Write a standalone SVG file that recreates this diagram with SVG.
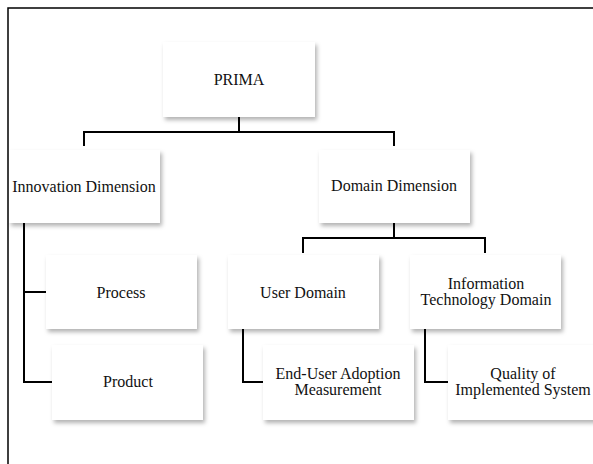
<svg xmlns="http://www.w3.org/2000/svg" width="593" height="464" viewBox="0 0 593 464">
<defs>
<filter id="sh" x="-10%" y="-10%" width="130%" height="140%">
<feDropShadow dx="2" dy="3" stdDeviation="2" flood-color="#000" flood-opacity="0.3"/>
</filter>
</defs>
<style>
.box{fill:#fff;filter:url(#sh)}
.t{font-family:"Liberation Serif","Times New Roman",serif;font-size:16px;fill:#111;text-anchor:middle}
.c{fill:none;stroke:#000;stroke-width:2}
</style>
<rect x="0" y="0" width="593" height="464" fill="#fff"/>
<rect x="8" y="8" width="600" height="470" fill="none" stroke="#000" stroke-width="1.5"/>
<g id="connectors">
<path class="c" d="M239 117V132M84 146V132H394V146"/>
<path class="c" d="M394 223V238M303 253V238H485V253"/>
<path class="c" d="M24 223V382H52M24 292H46"/>
<path class="c" d="M243 329V382H263"/>
<path class="c" d="M425 329V382H448"/>
</g>
<g id="prima"><rect class="box" x="163" y="42" width="152" height="75"/><text class="t" x="239" y="85">PRIMA</text></g>
<g id="innovation"><rect class="box" x="9" y="150" width="151" height="73"/><text class="t" x="84" y="192">Innovation Dimension</text></g>
<g id="domain"><rect class="box" x="319" y="150" width="151" height="73"/><text class="t" x="394" y="191">Domain Dimension</text></g>
<g id="process"><rect class="box" x="46" y="255" width="151" height="74"/><text class="t" x="121" y="298">Process</text></g>
<g id="product"><rect class="box" x="52" y="345" width="151" height="75"/><text class="t" x="128" y="387">Product</text></g>
<g id="user"><rect class="box" x="228" y="255" width="151" height="74"/><text class="t" x="303" y="298">User Domain</text></g>
<g id="it"><rect class="box" x="410" y="255" width="151" height="74"/><text class="t" x="486" y="289">Information</text><text class="t" x="486" y="305">Technology Domain</text></g>
<g id="enduser"><rect class="box" x="263" y="345" width="151" height="75"/><text class="t" x="338" y="379">End-User Adoption</text><text class="t" x="338" y="395">Measurement</text></g>
<g id="quality"><rect class="box" x="448" y="345" width="151" height="75"/><text class="t" x="523" y="379">Quality of</text><text class="t" x="523" y="395">Implemented System</text></g>
</svg>
